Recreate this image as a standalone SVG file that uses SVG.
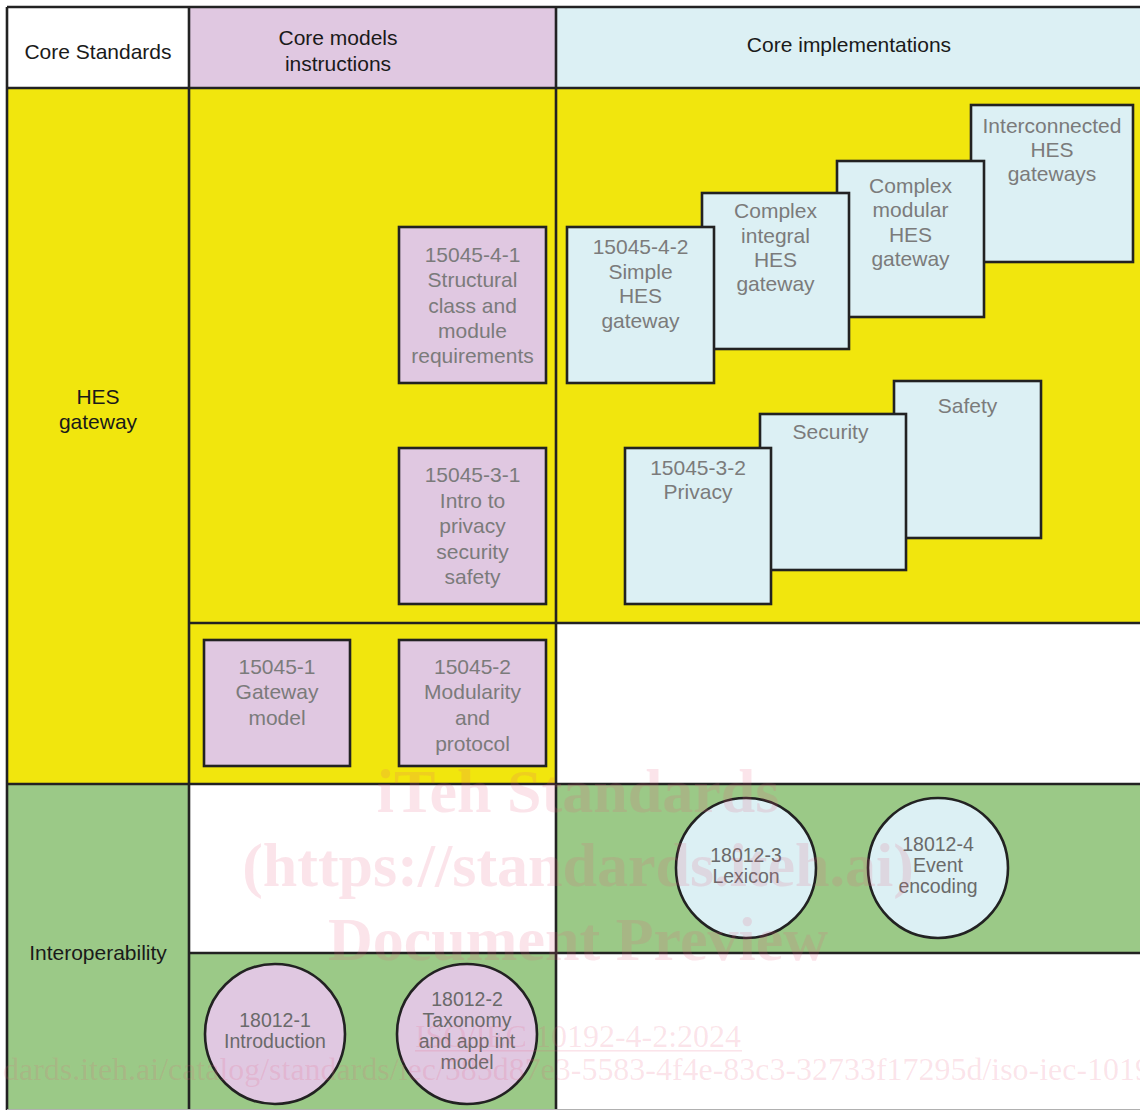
<svg xmlns="http://www.w3.org/2000/svg" width="1140" height="1111" viewBox="0 0 1140 1111">
<style>
.grid{stroke:#222;stroke-width:2.6;fill:none}
.box{stroke:#222;stroke-width:2.6}
.lav{fill:#e0c8e1}
.blu{fill:#dcf0f4}
.yel{fill:#f1e60d}
.grn{fill:#9bc987}
.wht{fill:#ffffff}
.hd{font-family:"Liberation Sans",Arial,sans-serif;font-size:21px;fill:#1a1a1a;text-anchor:middle}
.bt{font-family:"Liberation Sans",Arial,sans-serif;font-size:21px;fill:#7b7b7b;text-anchor:middle}
.et{font-family:"Liberation Sans",Arial,sans-serif;font-size:19.5px;fill:#6a6a6a;text-anchor:middle}
.wm{font-family:"Liberation Serif","Times New Roman",serif;fill:#e8577b;fill-opacity:0.16}
.wmb{font-weight:bold;font-size:62px;text-anchor:middle}
</style>
<rect width="1140" height="1111" fill="#ffffff"/>
<g id="cells">
<rect class="wht" x="7" y="7" width="182" height="81"/>
<rect class="lav" x="189" y="7" width="367" height="81"/>
<rect class="blu" x="556" y="7" width="584" height="81"/>
<rect class="yel" x="7" y="88" width="549" height="696"/>
<rect class="yel" x="556" y="88" width="584" height="535"/>
<rect class="wht" x="556" y="623" width="584" height="161"/>
<rect class="grn" x="7" y="784" width="182" height="326"/>
<rect class="wht" x="189" y="784" width="367" height="169"/>
<rect class="grn" x="556" y="784" width="584" height="169"/>
<rect class="grn" x="189" y="953" width="367" height="157"/>
<rect class="wht" x="556" y="953" width="584" height="157"/>
</g>
<g id="grid">
<line class="grid" x1="7" y1="7" x2="1140" y2="7"/>
<line class="grid" x1="7" y1="88" x2="1140" y2="88"/>
<line class="grid" x1="189" y1="623" x2="1140" y2="623"/>
<line class="grid" x1="7" y1="784" x2="1140" y2="784"/>
<line class="grid" x1="189" y1="953" x2="1140" y2="953"/>
<line class="grid" x1="7" y1="7" x2="7" y2="1110"/>
<line class="grid" x1="189" y1="7" x2="189" y2="1110"/>
<line class="grid" x1="556" y1="7" x2="556" y2="1110"/>
<line x1="7" y1="1109.5" x2="1140" y2="1109.5" stroke="#b0b0b0" stroke-width="1"/>
</g>
<g id="headers">
<text class="hd" x="98" y="59">Core Standards</text>
<text class="hd" x="338" y="45">Core models</text>
<text class="hd" x="338" y="71">instructions</text>
<text class="hd" x="849" y="52">Core implementations</text>
<text class="hd" x="98" y="404">HES</text>
<text class="hd" x="98" y="429">gateway</text>
<text class="hd" x="98" y="960">Interoperability</text>
</g>
<g id="n15045-4-1">
<rect class="box lav" x="399" y="227" width="147" height="156"/>
<text class="bt" x="472.5" y="262">15045-4-1</text>
<text class="bt" x="472.5" y="287">Structural</text>
<text class="bt" x="472.5" y="313">class and</text>
<text class="bt" x="472.5" y="338">module</text>
<text class="bt" x="472.5" y="363">requirements</text>
</g>
<g id="n15045-3-1">
<rect class="box lav" x="399" y="448" width="147" height="156"/>
<text class="bt" x="472.5" y="482">15045-3-1</text>
<text class="bt" x="472.5" y="508">Intro to</text>
<text class="bt" x="472.5" y="533">privacy</text>
<text class="bt" x="472.5" y="559">security</text>
<text class="bt" x="472.5" y="584">safety</text>
</g>
<g id="n15045-1">
<rect class="box lav" x="204" y="640" width="146" height="126"/>
<text class="bt" x="277" y="674">15045-1</text>
<text class="bt" x="277" y="699">Gateway</text>
<text class="bt" x="277" y="725">model</text>
</g>
<g id="n15045-2">
<rect class="box lav" x="399" y="640" width="147" height="126"/>
<text class="bt" x="472.5" y="674">15045-2</text>
<text class="bt" x="472.5" y="699">Modularity</text>
<text class="bt" x="472.5" y="725">and</text>
<text class="bt" x="472.5" y="751">protocol</text>
</g>
<g id="interconnected">
<rect class="box blu" x="971" y="105" width="162" height="157"/>
<text class="bt" x="1052" y="133">Interconnected</text>
<text class="bt" x="1052" y="157">HES</text>
<text class="bt" x="1052" y="181">gateways</text>
</g>
<g id="complex-modular">
<rect class="box blu" x="837" y="161" width="147" height="156"/>
<text class="bt" x="910.5" y="193">Complex</text>
<text class="bt" x="910.5" y="217">modular</text>
<text class="bt" x="910.5" y="242">HES</text>
<text class="bt" x="910.5" y="266">gateway</text>
</g>
<g id="complex-integral">
<rect class="box blu" x="702" y="193" width="147" height="156"/>
<text class="bt" x="775.5" y="218">Complex</text>
<text class="bt" x="775.5" y="243">integral</text>
<text class="bt" x="775.5" y="267">HES</text>
<text class="bt" x="775.5" y="291">gateway</text>
</g>
<g id="n15045-4-2">
<rect class="box blu" x="567" y="227" width="147" height="156"/>
<text class="bt" x="640.5" y="254">15045-4-2</text>
<text class="bt" x="640.5" y="279">Simple</text>
<text class="bt" x="640.5" y="303">HES</text>
<text class="bt" x="640.5" y="328">gateway</text>
</g>
<g id="safety">
<rect class="box blu" x="894" y="381" width="147" height="157"/>
<text class="bt" x="967.5" y="413">Safety</text>
</g>
<g id="security">
<rect class="box blu" x="760" y="414" width="146" height="156"/>
<text class="bt" x="830.5" y="439">Security</text>
</g>
<g id="n15045-3-2">
<rect class="box blu" x="625" y="448" width="146" height="156"/>
<text class="bt" x="698" y="475">15045-3-2</text>
<text class="bt" x="698" y="499">Privacy</text>
</g>
<g id="n18012-3">
<ellipse class="box blu" cx="746" cy="868" rx="70" ry="70"/>
<text class="et" x="746" y="862">18012-3</text>
<text class="et" x="746" y="883">Lexicon</text>
</g>
<g id="n18012-4">
<ellipse class="box blu" cx="938" cy="868" rx="70" ry="70"/>
<text class="et" x="938" y="851">18012-4</text>
<text class="et" x="938" y="872">Event</text>
<text class="et" x="938" y="893">encoding</text>
</g>
<g id="n18012-1">
<ellipse class="box lav" cx="275" cy="1034" rx="70" ry="70"/>
<text class="et" x="275" y="1027">18012-1</text>
<text class="et" x="275" y="1048">Introduction</text>
</g>
<g id="n18012-2">
<ellipse class="box lav" cx="467" cy="1034" rx="70" ry="70"/>
<text class="et" x="467" y="1006">18012-2</text>
<text class="et" x="467" y="1027">Taxonomy</text>
<text class="et" x="467" y="1048">and app int</text>
<text class="et" x="467" y="1069">model</text>
</g>
<g id="connectors"></g>
<g id="watermark" class="wm">
<text class="wmb" x="578" y="812">iTeh Standards</text>
<text class="wmb" x="578" y="886">(https://standards.iteh.ai)</text>
<text class="wmb" x="578" y="960">Document Preview</text>
<text x="578" y="1047" font-size="32" text-anchor="middle">ISO/IEC 10192-4-2:2024</text>
<rect x="415" y="1050" width="327" height="1.6"/>
<text x="3" y="1080" font-size="32" textLength="1148" lengthAdjust="spacingAndGlyphs">dards.iteh.ai/catalog/standards/iec/585d87e3-5583-4f4e-83c3-32733f17295d/iso-iec-1019</text>
</g>
</svg>
